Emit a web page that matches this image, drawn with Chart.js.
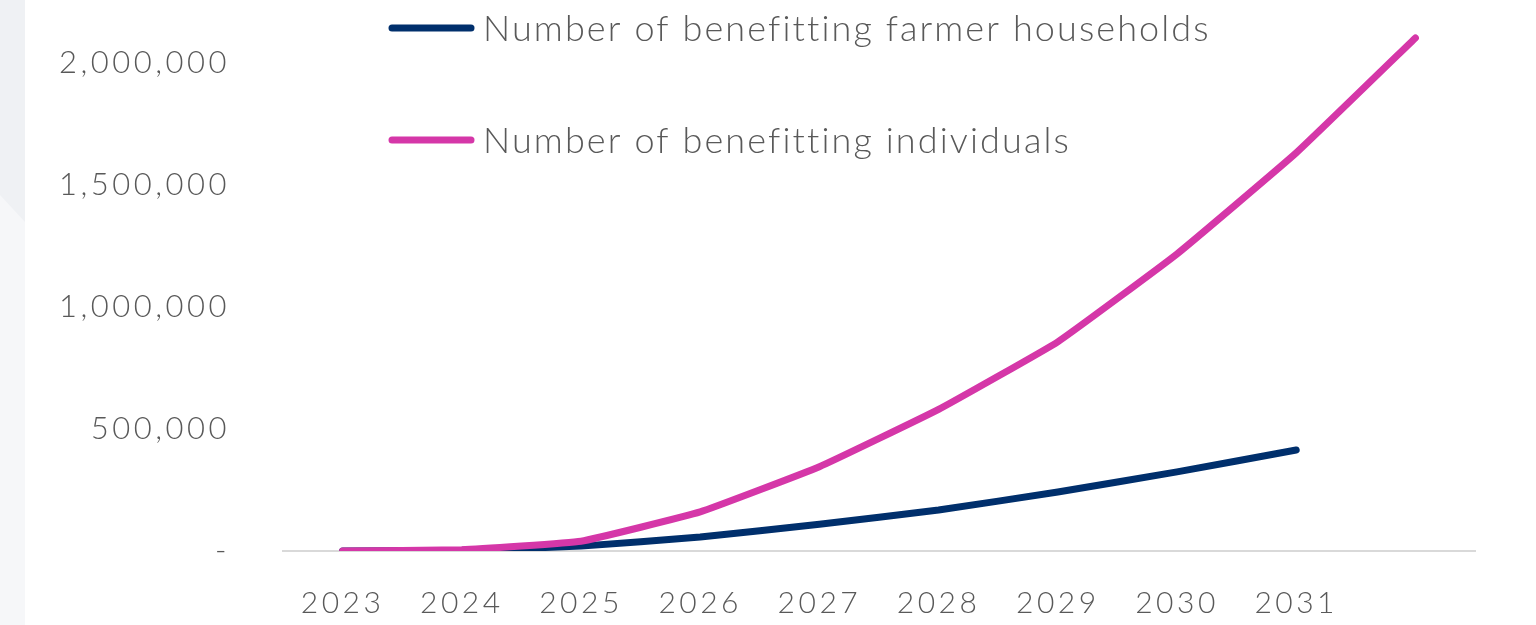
<!DOCTYPE html>
<html>
<head>
<meta charset="utf-8">
<script src="https://cdn.jsdelivr.net/npm/chart.js@4.4.1/dist/chart.umd.min.js"></script>
<style>
  html, body { margin: 0; padding: 0; background: #ffffff; }
  body { width: 1536px; height: 625px; position: relative; overflow: hidden; }
  .strip { position: absolute; left: 0; top: 0; width: 25px; height: 625px; background: #eff1f4; }
  .strip-low { position: absolute; left: 0; top: 0; width: 25px; height: 625px; background: #f6f7f9;
               clip-path: polygon(0 195px, 25px 222px, 25px 625px, 0 625px); }
  #wrap { position: absolute; left: 0; top: 0; width: 1536px; height: 625px; }
</style>
</head>
<body>
<div class="strip"></div>
<div class="strip-low"></div>
<div id="wrap"><canvas id="chart"></canvas></div>
<script>
// Years on the category axis (the last slot carries no label)
const years = ['2023', '2024', '2025', '2026', '2027', '2028', '2029', '2030', '2031', ''];

// Series values
const farmerHouseholds = [0, 3000, 20000, 57000, 110000, 168000, 242000, 324000, 414000, null];
const individuals = [0, 5000, 40000, 160000, 345000, 580000, 857000, 1217000, 1631000, 2102000];

// Value axis ticks
const yTicks = [0, 500000, 1000000, 1500000, 2000000];

const seriesNames = ['Number of benefitting farmer households', 'Number of benefitting individuals'];
const seriesColors = ['#002f6c', '#d537a8'];

const fontFamily = "Lato, 'Open Sans', sans-serif";
const textColor = '#595959';

// Wider tracking for the axis labels
const tracking = {
  id: 'tracking',
  beforeUpdate(chart) { chart.ctx.letterSpacing = '3.5px'; },
  beforeDraw(chart) { chart.ctx.letterSpacing = '3.5px'; }
};

// Legend stacked top-left over the plot
const stackedLegend = {
  id: 'stackedLegend',
  afterDraw(chart) {
    const ctx = chart.ctx;
    const rows = [28, 140];
    ctx.save();
    chart.data.datasets.forEach((ds, i) => {
      const y = rows[i];
      ctx.strokeStyle = ds.borderColor;
      ctx.lineWidth = 7;
      ctx.lineCap = 'round';
      ctx.beginPath();
      ctx.moveTo(392, y);
      ctx.lineTo(471, y);
      ctx.stroke();
      ctx.fillStyle = textColor;
      ctx.font = '300 36px ' + fontFamily;
      ctx.letterSpacing = '2.1px';
      ctx.textAlign = 'left';
      ctx.textBaseline = 'middle';
      ctx.fillText(ds.label, 483, y + 1);
    });
    ctx.restore();
  }
};

const fmt = v => v === 0 ? '-' : v.toLocaleString('en-US');

new Chart(document.getElementById('chart'), {
  type: 'line',
  data: {
    labels: years,
    datasets: [
      {
        label: seriesNames[0],
        data: farmerHouseholds,
        borderColor: seriesColors[0],
        backgroundColor: seriesColors[0],
        borderWidth: 7,
        borderCapStyle: 'round',
        borderJoinStyle: 'round',
        pointRadius: 0,
        tension: 0.15,
        order: 1
      },
      {
        label: seriesNames[1],
        data: individuals,
        borderColor: seriesColors[1],
        backgroundColor: seriesColors[1],
        borderWidth: 7,
        borderCapStyle: 'round',
        borderJoinStyle: 'round',
        pointRadius: 0,
        tension: 0.1,
        order: 0
      }
    ]
  },
  options: {
    responsive: true,
    maintainAspectRatio: false,
    animation: false,
    events: [],
    layout: { padding: { left: 0, right: 61, top: 14, bottom: 0 } },
    plugins: {
      legend: { display: false },
      tooltip: { enabled: false }
    },
    scales: {
      x: {
        offset: true,
        grid: { display: false, drawTicks: false },
        border: { display: true, color: '#d9d9d9', width: 2 },
        ticks: {
          color: textColor,
          font: { family: fontFamily, size: 30, weight: '300' },
          padding: 34,
          maxRotation: 0,
          autoSkip: false
        },
        afterFit(scale) { scale.height = 74; }
      },
      y: {
        min: 0,
        max: 2200000,
        grid: { display: false, drawTicks: true, tickLength: 53 },
        border: { display: false },
        ticks: {
          color: textColor,
          font: { family: fontFamily, size: 31, weight: '300', lineHeight: 0.85 },
          padding: 0,
          callback: v => fmt(v)
        },
        afterBuildTicks(scale) {
          scale.ticks = yTicks.map(v => ({ value: v }));
        },
        afterFit(scale) { scale.width = 283; }
      }
    }
  },
  plugins: [tracking, stackedLegend]
});
</script>
</body>
</html>
